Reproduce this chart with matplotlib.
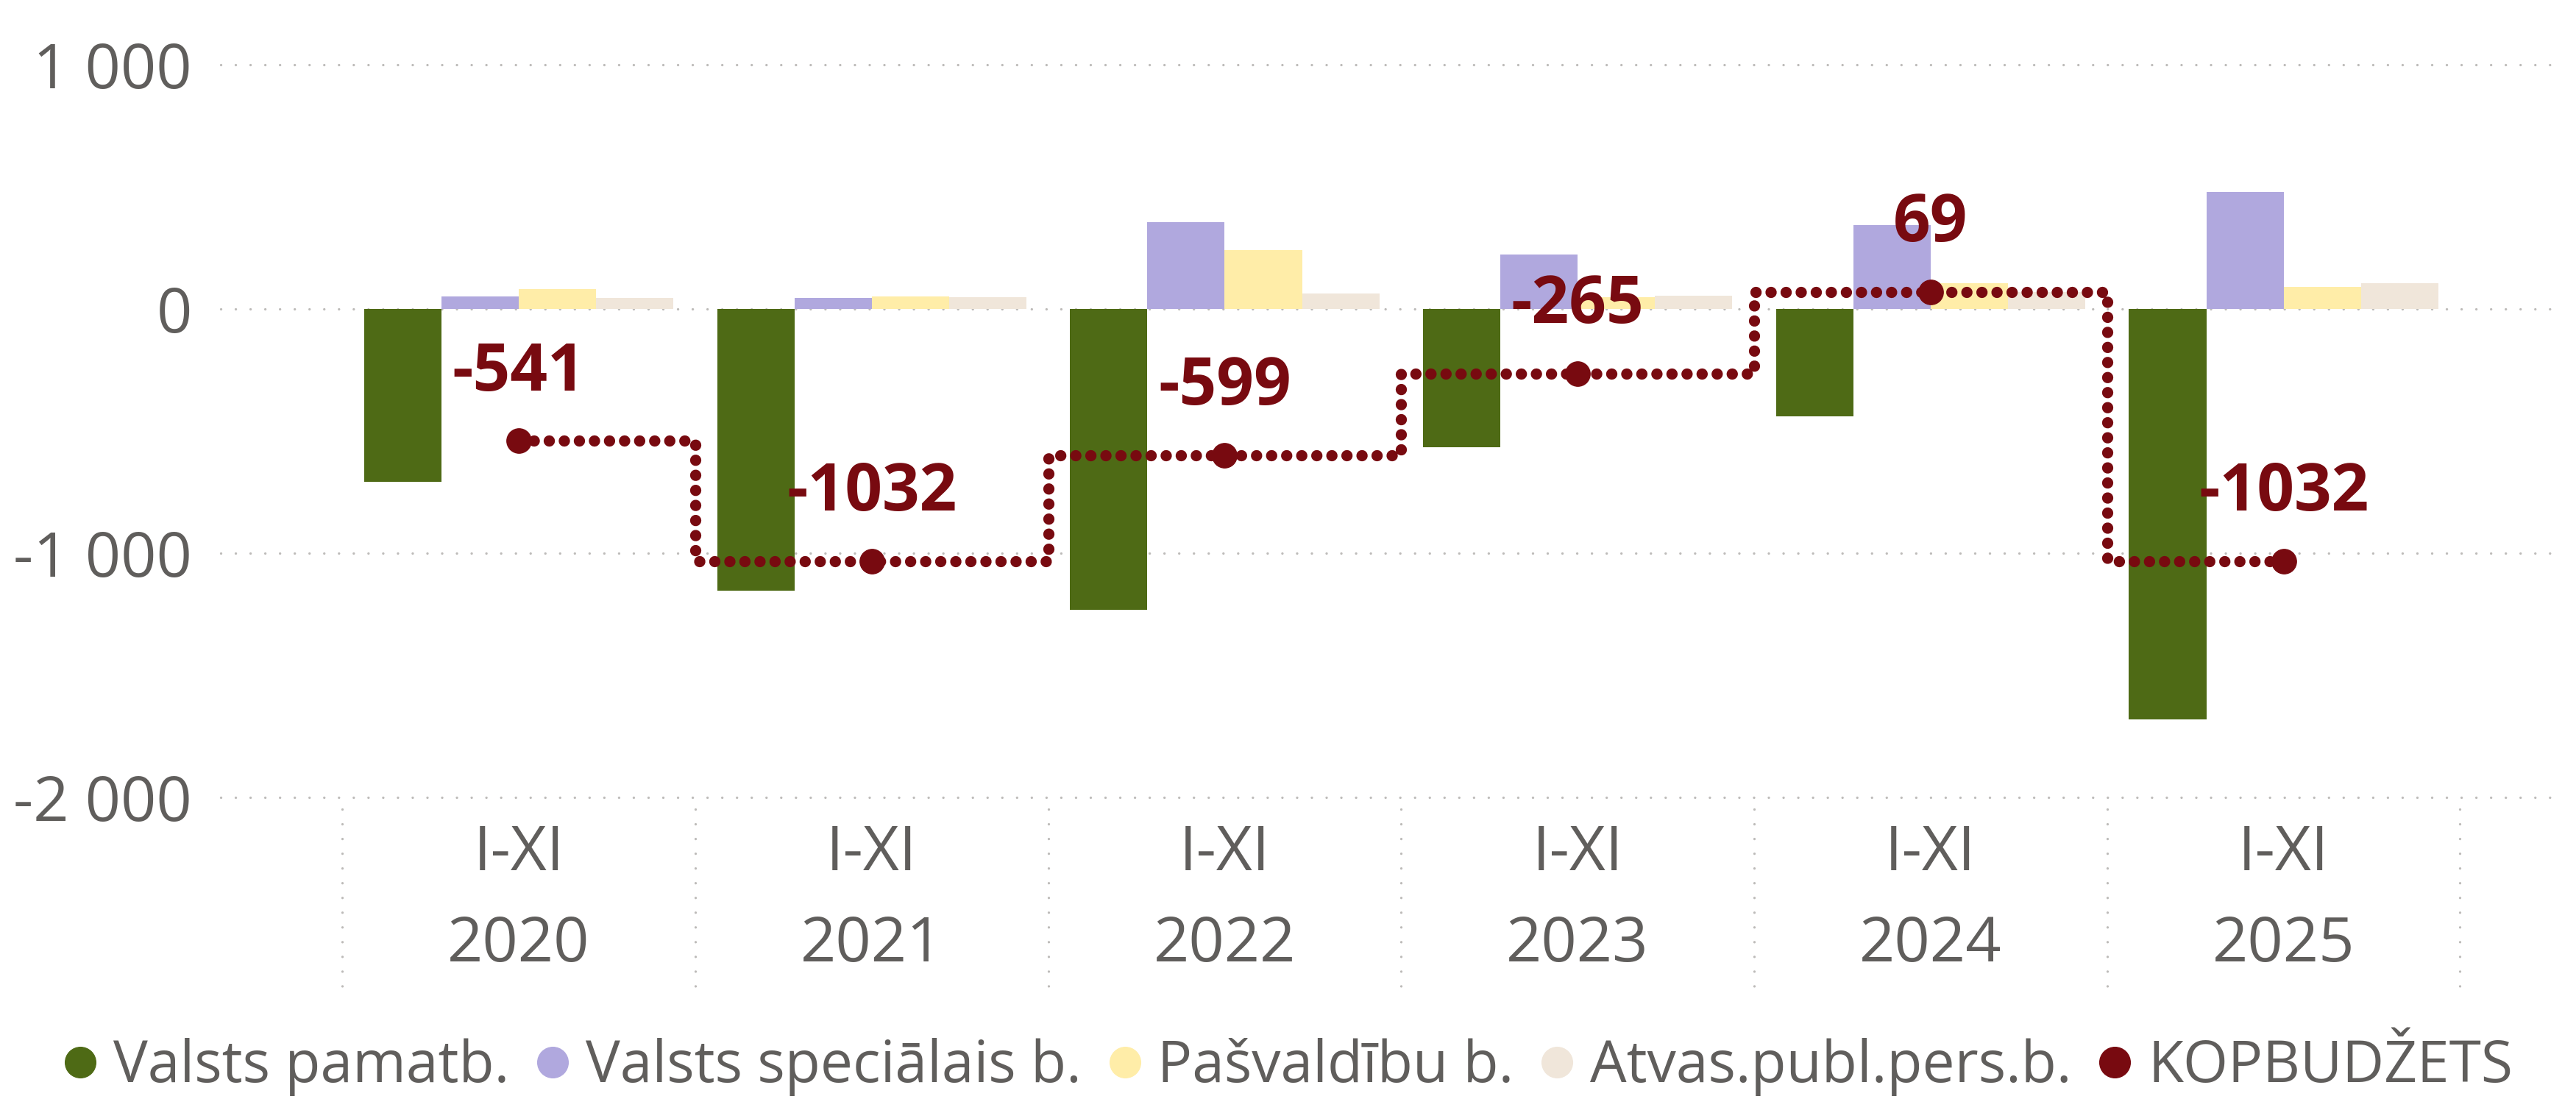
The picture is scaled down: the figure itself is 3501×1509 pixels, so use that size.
import matplotlib
matplotlib.use("Agg")
import matplotlib.pyplot as plt
from matplotlib.lines import Line2D
import matplotlib.transforms as mtransforms
import numpy as np

plt.rcParams['font.family'] = ['Open Sans', 'DejaVu Sans']

periods = ["I-XI", "I-XI", "I-XI", "I-XI", "I-XI", "I-XI"]
years = ["2020", "2021", "2022", "2023", "2024", "2025"]

valsts_pamatb = [-708, -1155, -1233, -568, -439, -1680]
valsts_special = [52, 44, 354, 221, 344, 477]
pasvaldibu = [82, 50, 239, 47, 106, 89]
atvas = [46, 47, 62, 53, 70, 104]
kopbudzets = [-541, -1032, -599, -265, 69, -1032]

series_names = ["Valsts pamatb.", "Valsts speciālais b.", "Pašvaldību b.",
                "Atvas.publ.pers.b.", "KOPBUDŽETS"]
colors = ["#4E6A15", "#B0A8DE", "#FFEDA8", "#F0E6DA", "#780A10"]

yticks = [-2000, -1000, 0, 1000]
yticklabels = ["-2 000", "-1 000", "0", "1 000"]

TXT = "#605E5C"
GRID = "#BDBBB9"

fig = plt.figure(figsize=(35.01, 15.09), dpi=100)
ax = fig.add_axes([300/3501, 1 - 1084/1509, (3472-300)/3501, (1084-60)/1509])

x = np.arange(len(years))
w = 0.219
bar_series = [valsts_pamatb, valsts_special, pasvaldibu, atvas]
for k, vals in enumerate(bar_series):
    ax.bar(x + (k - 1.5) * w, vals, width=w, color=colors[k], zorder=2)

# gridlines
for yv in yticks:
    ln = ax.axhline(yv, color=GRID, lw=2.4, zorder=1, clip_on=False)
    ln.set_dashes([0.01, 6.0])
    ln.set_dash_capstyle('round')

# category separators below axis
trans = mtransforms.blended_transform_factory(ax.transData, ax.transAxes)
for b in np.arange(len(years) + 1) - 0.5:
    ln = Line2D([b, b], [-0.0156, -0.253], transform=trans, color=GRID, lw=2.4,
                clip_on=False)
    ln.set_dashes([0.01, 6.0])
    ln.set_dash_capstyle('round')
    ax.add_line(ln)

# total line
line, = ax.plot(x, kopbudzets, drawstyle='steps-mid', color=colors[4], lw=11,
                zorder=4)
line.set_dashes([0.01, 1.33])
line.set_dash_capstyle('round')
ax.plot(x, kopbudzets, ls='none', marker='o', ms=24, color=colors[4], zorder=5)

for xi, v in zip(x, kopbudzets):
    ax.annotate(f"{v}", (xi, v), xytext=(0, 66), textcoords='offset points',
                ha='center', va='center', fontsize=64, fontweight='bold',
                color=colors[4], zorder=6)

ax.set_xlim(-0.8443, 5.768)
ax.set_ylim(-2000, 1083.6)
ax.set_yticks(yticks, labels=yticklabels)
ax.tick_params(axis='y', length=0, pad=28, labelsize=61, labelcolor=TXT)
ax.set_xticks([])
for s in ax.spines.values():
    s.set_visible(False)

for xi, p, yr in zip(x, periods, years):
    ax.text(xi, -(1183-1084)/1024, p, transform=trans, ha='center', va='baseline',
            fontsize=61, color=TXT)
    ax.text(xi, -(1307-1084)/1024, yr, transform=trans, ha='center', va='baseline',
            fontsize=61, color=TXT)

handles = [Line2D([], [], ls='none', marker='o', ms=30, color=c) for c in colors]
fig.legend(handles, series_names, loc='center', bbox_to_anchor=(0.5, 1 - 1451/1509),
           ncol=5, frameon=False, fontsize=56.5, labelcolor=TXT,
           handlelength=0.6, handletextpad=0.27, columnspacing=0.45,
           borderpad=0, borderaxespad=0)

fig.savefig("out.png", dpi=100)
